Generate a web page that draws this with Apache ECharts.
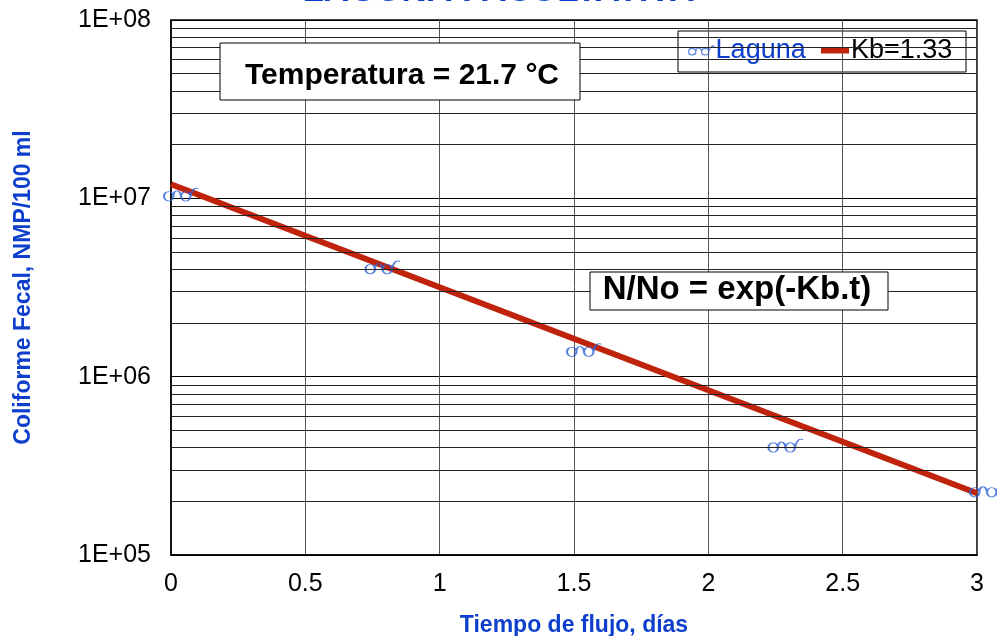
<!DOCTYPE html>
<html>
<head>
<meta charset="utf-8">
<script src="https://cdn.jsdelivr.net/npm/echarts@6/dist/echarts.min.js"></script>
<style>html,body{margin:0;padding:0;background:#fff}#c{width:997px;height:636px}</style>
</head>
<body>
<div id="c"></div>
<script>
var titleText = 'LAGUNA FACULTATIVA';
var xTicks = [0, 0.5, 1, 1.5, 2, 2.5, 3];
var lagunaT = [0, 0.75, 1.5, 2.25, 3];
var lagunaN = [1.05e7, 4.1e6, 1.41e6, 4.1e5, 2.3e5];
var fitT = [0, 3];
var fitN = [1.2e7, 2.22e5];
var minorGrid = [2e5,3e5,4e5,5e5,6e5,7e5,8e5,9e5,
                 2e6,3e6,4e6,5e6,6e6,7e6,8e6,9e6,
                 2e7,3e7,4e7,5e7,6e7,7e7,8e7,9e7];
var yLabels = {5:'1E+05', 6:'1E+06', 7:'1E+07', 8:'1E+08'};

var blue = '#0d3fcc';
var markBlue = '#2f62d8';
var red = '#c0230b';
var glasses = 'path://M0,9 a5,4.5 0 1,0 10,0 a5,4.5 0 1,0 -10,0 M10,9 C10,2 17,2 18,9 M18,9 a5,4.5 0 1,0 10,0 a5,4.5 0 1,0 -10,0 M28,9 C30,1 34,0 36,2';

var chart = echarts.init(document.getElementById('c'), null, {renderer:'canvas'});
var font = 'Liberation Sans, Arial, sans-serif';
chart.setOption({
  animation: false,
  textStyle: {fontFamily: font},
  title: {
    text: titleText, left: 'center', top: -31,
    textStyle: {color: blue, fontSize: 35, fontWeight: 'bold', fontFamily: font}
  },
  grid: {left: 171, right: 20, top: 20, bottom: 81, show: true, borderColor: '#000', borderWidth: 1.5,
         containLabel: false, outerBoundsMode: 'none'},
  legend: [
    {
      left: 688, top: 37, padding: 0, itemGap: 0, itemWidth: 26, itemHeight: 13,
      data: [{name: 'Laguna', icon: glasses, itemStyle: {color: 'rgba(0,0,0,0)', borderColor: markBlue, borderWidth: 1.2}}],
      textStyle: {fontSize: 27, color: blue, fontFamily: font, padding: [0, 0, 0, -4]}
    },
    {
      left: 821, top: 37, padding: 0, itemGap: 0, itemWidth: 28, itemHeight: 6,
      data: [{name: 'Kb=1.33', icon: 'rect', itemStyle: {color: red}}],
      textStyle: {fontSize: 27, color: '#000', fontFamily: font, padding: [0, 0, 0, -3]}
    }
  ],
  xAxis: {
    type: 'value', min: 0, max: 3, interval: 0.5,
    name: 'Tiempo de flujo, días', nameLocation: 'middle', nameGap: 59,
    nameTextStyle: {color: blue, fontSize: 23, fontWeight: 'bold', fontFamily: font},
    axisLine: {lineStyle: {color: '#000', width: 1.5}},
    axisTick: {show: false},
    axisLabel: {color: '#000', fontSize: 25, margin: 17, fontFamily: font,
      formatter: function (v) { return String(v); }},
    splitLine: {show: true, lineStyle: {color: '#555', width: 1}}
  },
  yAxis: {
    type: 'log', logBase: 10, min: 1e5, max: 1e8,
    name: 'Coliforme Fecal, NMP/100 ml', nameLocation: 'middle', nameGap: 136,
    nameTextStyle: {color: blue, fontSize: 23, fontWeight: 'bold', fontFamily: font},
    axisLine: {lineStyle: {color: '#000', width: 1.5}},
    axisTick: {show: false},
    axisLabel: {color: '#000', fontSize: 25, margin: 20, fontFamily: font,
      formatter: function (v) { var e = Math.round(Math.log10(v)); return yLabels[e] || ''; }},
    splitLine: {show: true, lineStyle: {color: '#000', width: 1}}
  },
  series: [
    {
      name: 'grid', type: 'line', data: [], silent: true,
      markLine: {
        silent: true, symbol: 'none', label: {show: false},
        lineStyle: {color: '#222', width: 1, type: 'solid'},
        data: minorGrid.map(function (v) { return {yAxis: v}; })
      }
    },
    {
      name: 'Kb=1.33', type: 'line', symbol: 'none', z: 3,
      lineStyle: {color: red, width: 6},
      itemStyle: {color: red},
      data: fitT.map(function (t, i) { return [t, fitN[i]]; })
    },
    {
      name: 'Laguna', type: 'scatter', symbol: glasses, symbolSize: [34, 13], symbolOffset: [10, 0],
      z: 4,
      itemStyle: {color: 'rgba(0,0,0,0)', borderColor: markBlue, borderWidth: 1.3},
      data: lagunaT.map(function (t, i) { return [t, lagunaN[i]]; })
    }
  ],
  graphic: [
    {type: 'rect', shape: {x: 678, y: 31, width: 288, height: 41}, style: {fill: '#fff', stroke: '#000', lineWidth: 1}, z: 0, zlevel: 0},
    {type: 'rect', shape: {x: 220, y: 43, width: 360, height: 57}, style: {fill: '#fff', stroke: '#000', lineWidth: 1}, z: 100},
    {type: 'text', x: 402, y: 76, style: {text: 'Temperatura = 21.7 °C', fill: '#000', font: 'bold 30px ' + font, textAlign: 'center', textVerticalAlign: 'middle'}, z: 101},
    {type: 'rect', shape: {x: 590, y: 272, width: 298, height: 38}, style: {fill: '#fff', stroke: '#000', lineWidth: 1}, z: 100},
    {type: 'text', x: 737, y: 290, style: {text: 'N/No = exp(-Kb.t)', fill: '#000', font: 'bold 33px ' + font, textAlign: 'center', textVerticalAlign: 'middle'}, z: 101}
  ]
});
</script>
</body>
</html>
